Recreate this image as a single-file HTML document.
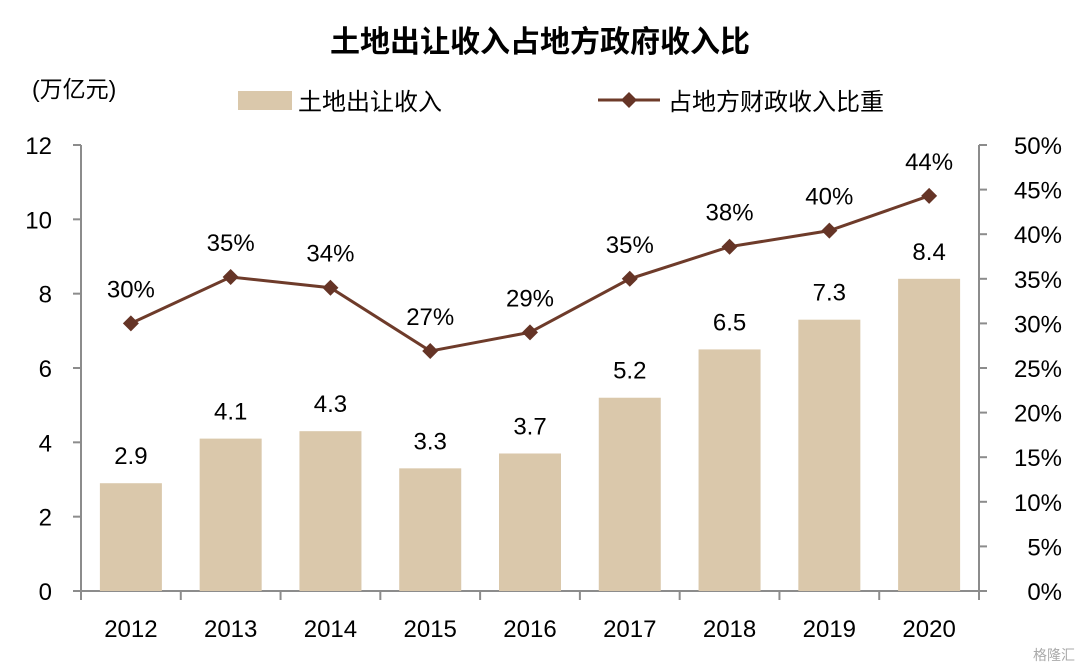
<!DOCTYPE html>
<html><head><meta charset="utf-8"><style>
html,body{margin:0;padding:0;background:#fff;}
svg{display:block;font-family:"Liberation Sans","Noto Sans CJK SC",sans-serif;}
</style></head><body>
<svg id="c" width="1080" height="667" viewBox="0 0 1080 667">
<text x="540" y="52" text-anchor="middle" font-size="30" font-weight="bold" fill="#000">土地出让收入占地方政府收入比</text>
<text x="32" y="97" font-size="23" fill="#000">(万亿元)</text>
<g>
<rect x="238" y="91" width="54" height="19" fill="#dac8ab"/>
<text x="298" y="110" font-size="24" fill="#000">土地出让收入</text>
<line x1="598" y1="100" x2="660" y2="100" stroke="#6e3b2a" stroke-width="3"/>
<path d="M629 92 L637 100 L629 108 L621 100Z" fill="#653426"/>
<text x="668" y="110" font-size="24" fill="#000">占地方财政收入比重</text>
</g>
<g id="axes"></g><g id="bars"></g><g id="line"></g>
<text x="1075" y="660" text-anchor="end" font-size="14" fill="#aaa">格隆汇</text>
</svg>
<script>
const categories=["2012","2013","2014","2015","2016","2017","2018","2019","2020"];
const landRevenue=[2.9,4.1,4.3,3.3,3.7,5.2,6.5,7.3,8.4];
const shareValues=[30,35.2,34,26.9,29,35,38.6,40.4,44.3];
const shareLabels=["30%","35%","34%","27%","29%","35%","38%","40%","44%"];
const leftTicks=[0,2,4,6,8,10,12];
const rightTicks=[0,5,10,15,20,25,30,35,40,45,50];

const NS="http://www.w3.org/2000/svg";
const X0=81,X1=979,Y0=591,Y1=145;
const band=(X1-X0)/categories.length;
const xc=i=>X0+band*(i+0.5);
const yL=v=>Y0-(v/12)*(Y0-Y1);
const yR=v=>Y0-(v/50)*(Y0-Y1);
function mk(tag,attrs,parent,text){const e=document.createElementNS(NS,tag);for(const k in attrs)e.setAttribute(k,attrs[k]);if(text!==undefined)e.textContent=text;parent.appendChild(e);return e;}
const ax=document.getElementById('axes'),bg=document.getElementById('bars'),lg=document.getElementById('line');
const G="#8c8c8c";
let e;
e=mk('line',{x1:X0,y1:Y1,x2:X0,y2:Y0,stroke:G,'stroke-width':2},ax);


e=mk('line',{x1:X1,y1:Y1,x2:X1,y2:Y0,stroke:G,'stroke-width':2},ax);


e=mk('line',{x1:X0-8,y1:Y0,x2:X1,y2:Y0,stroke:G,'stroke-width':2},ax);


leftTicks.forEach(v=>{const y=yL(v);
 mk('line',{x1:X0-8,y1:y,x2:X0,y2:y,stroke:G,'stroke-width':2},ax);
 e=mk('text',{x:52,y:y+9,'text-anchor':'end','font-size':24,fill:'#000'},ax,String(v));
 
 });
rightTicks.forEach(v=>{const y=yR(v);
 mk('line',{x1:X1,y1:y,x2:X1+8,y2:y,stroke:G,'stroke-width':2},ax);
 e=mk('text',{x:1062,y:y+9,'text-anchor':'end','font-size':24,fill:'#000'},ax,v+'%');
 
 });
for(let i=0;i<=categories.length;i++){const x=X0+band*i;mk('line',{x1:x,y1:Y0,x2:x,y2:Y0+9,stroke:G,'stroke-width':2},ax);}
categories.forEach((c,i)=>{
 e=mk('text',{x:xc(i),y:637,'text-anchor':'middle','font-size':24,fill:'#000'},ax,c);
 
 
 const v=landRevenue[i],y=yL(v);
 e=mk('rect',{x:xc(i)-31,y:y,width:62,height:Y0-y,fill:'#dac8ab'},bg);
 
 
 e=mk('text',{x:xc(i),y:y-19,'text-anchor':'middle','font-size':24,fill:'#000'},bg,v.toFixed(1));
 
 
});
const pts=shareValues.map((v,i)=>xc(i)+','+yR(v)).join(' ');
e=mk('polyline',{points:pts,fill:'none',stroke:'#6e3b2a','stroke-width':3},lg);


shareValues.forEach((v,i)=>{const x=xc(i),y=yR(v);
 e=mk('path',{d:`M${x} ${y-8} L${x+8} ${y} L${x} ${y+8} L${x-8} ${y}Z`,fill:'#653426'},lg);
 
 
 e=mk('text',{x:x,y:y-26,'text-anchor':'middle','font-size':24,fill:'#000'},lg,shareLabels[i]);
 
 
});
</script>
</body></html>
